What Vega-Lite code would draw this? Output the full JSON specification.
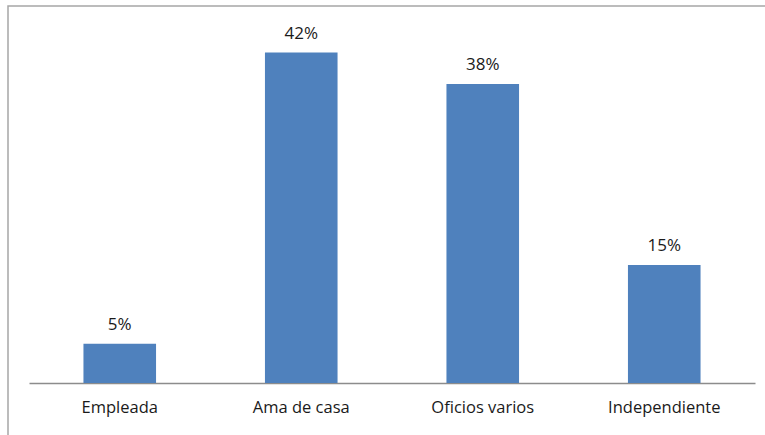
{
  "$schema": "https://vega.github.io/schema/vega-lite/v6.json",
  "autosize": {"type": "none"},
  "width": 770,
  "height": 440,
  "padding": {"left": 8, "top": 6, "right": 0, "bottom": 0},
  "background": "white",
  "config": {
    "view": {"stroke": "#a6a6a6", "strokeWidth": 1.5},
    "font": "Open Sans"
  },
  "data": {
    "values": [
      {"cat": "Empleada", "pct": 0.05},
      {"cat": "Ama de casa", "pct": 0.42},
      {"cat": "Oficios varios", "pct": 0.38},
      {"cat": "Independiente", "pct": 0.15}
    ]
  },
  "encoding": {
    "x": {
      "field": "cat", "type": "nominal", "sort": null,
      "scale": {"range": [21, 747], "paddingInner": 0.6, "paddingOuter": 0.3},
      "axis": {
        "title": null, "labelAngle": 0, "ticks": false, "offset": -63,
        "domainColor": "#8c8c8c", "domainWidth": 1.5,
        "labelFontSize": 16.5, "labelColor": "#1a1a1a", "labelPadding": 16,
        "labelFont": "Open Sans"
      }
    },
    "y": {
      "field": "pct", "type": "quantitative",
      "scale": {"domain": [0, 0.45], "range": [377, 23], "nice": false},
      "axis": null
    }
  },
  "layer": [
    {"mark": {"type": "bar", "color": "#4f81bd"}},
    {
      "mark": {"type": "text", "dy": -10, "baseline": "bottom", "fontSize": 17, "color": "#1a1a1a"},
      "encoding": {"text": {"field": "pct", "type": "quantitative", "format": ".0%"}}
    }
  ]
}
